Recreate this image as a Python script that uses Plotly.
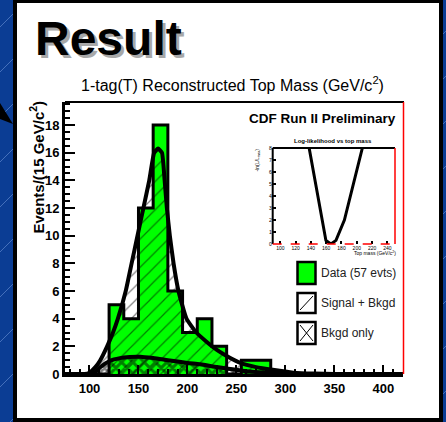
import plotly.graph_objects as go

W, H = 446, 422

# 15 GeV bins, lower edges 75..405, upper edge 420
bin_lo = [75, 90, 105, 120, 135, 150, 165, 180, 195, 210, 225, 240,
          255, 270, 285, 300, 315, 330, 345, 360, 375, 390, 405]
bin_hi_edge = 420
data_counts = [0, 0, 0, 5, 4, 12, 18, 6, 3, 4, 2, 0,
               1, 1, 0, 0, 0, 0, 0, 0, 0, 0, 0]

# signal + background template
sb_mass = [75, 95, 100, 106, 111, 118, 124, 129, 137, 143, 149, 155, 161, 166,
           170, 174, 176.7, 179, 182, 185.8, 190.8, 199, 209, 220, 230, 240,
           254, 270, 287, 308, 330, 350, 420]
sb_val = [0, 0, 0.1, 0.5, 1.0, 2.0, 3.0, 4.0, 6.0, 8.0, 10.0, 12.0, 14.0, 16.0,
          16.3, 16.0, 14.0, 12.0, 10.0, 8.0, 6.0, 4.0, 3.0, 2.3, 1.74, 1.3,
          0.8, 0.5, 0.3, 0.1, 0.03, 0, 0]

# background only template
bg_mass = [75, 100, 105, 111, 121, 131, 141, 152, 165, 180, 200, 213, 230,
           240, 260, 280, 300, 320, 420]
bg_val = [0, 0, 0.1, 0.5, 0.96, 1.15, 1.23, 1.25, 1.15, 1.0, 0.8, 0.7, 0.5,
          0.4, 0.2, 0.1, 0.05, 0, 0]

# inset: -ln(L/Lmax) vs top mass
ll_mass = [132, 137.5, 143, 148.6, 154.3, 159.6, 166.2, 172.8, 183.8, 191.8,
           199.3, 207.3, 212]
ll_val = [10, 8, 6, 4, 2, 0.3, 0, 0.3, 2, 4, 6, 8, 9.5]

FONT = "Liberation Sans, Arial, sans-serif"
BLUE = "#0b3d94"


def px(x):
    return x / W


def py(y):
    return 1 - y / H


def note(text, x, y, size, xanchor="center", yanchor="middle",
         color="black", angle=0, shadow="none"):
    return dict(text=text, x=px(x), y=py(y), xref="paper", yref="paper",
                xanchor=xanchor, yanchor=yanchor, textangle=angle,
                showarrow=False,
                font=dict(family=FONT, size=size, color=color, shadow=shadow))


def pline(x0, y0, x1, y1, color="black", width=2, dash="solid", layer="above"):
    return dict(type="line", xref="paper", yref="paper",
                x0=px(x0), y0=py(y0), x1=px(x1), y1=py(y1),
                line=dict(color=color, width=width, dash=dash), layer=layer)


def prect(x0, y0, x1, y1, fill, width=2.5, layer="above"):
    return dict(type="rect", xref="paper", yref="paper",
                x0=px(x0), y0=py(y0), x1=px(x1), y1=py(y1),
                fillcolor=fill, line=dict(color="black", width=width), layer=layer)


step_x = bin_lo + [bin_hi_edge]
step_y = data_counts + [data_counts[-1]]

fig = go.Figure()

fig.add_trace(go.Scatter(
    x=step_x, y=step_y, mode="lines",
    line=dict(shape="hv", color="black", width=3),
    fill="tozeroy", fillcolor="#00ff00", hoverinfo="skip"))

fig.add_trace(go.Scatter(
    x=sb_mass, y=sb_val, mode="lines",
    line=dict(color="black", width=4, shape="spline", smoothing=0.4),
    fill="tozeroy", fillcolor="rgba(0,0,0,0)",
    fillpattern=dict(shape="/", fgcolor="black", bgcolor="rgba(0,0,0,0)",
                     size=10, solidity=0.12),
    hoverinfo="skip"))

fig.add_trace(go.Scatter(
    x=bg_mass, y=bg_val, mode="lines",
    line=dict(color="black", width=4, shape="spline", smoothing=0.6),
    fill="tozeroy", fillcolor="rgba(0,0,0,0)",
    fillpattern=dict(shape="x", fgcolor="black", bgcolor="rgba(0,0,0,0)",
                     size=8, solidity=0.6),
    hoverinfo="skip"))

fig.add_trace(go.Scatter(
    x=ll_mass, y=ll_val, mode="lines", xaxis="x2", yaxis="y2",
    line=dict(color="black", width=3), hoverinfo="skip"))

shapes = []
# background stripes
for x0 in range(-440, 460, 45):
    shapes.append(pline(x0, H, x0 + H, 0, color="rgba(140,175,235,0.45)",
                        width=1, layer="below"))
# white panel
shapes.append(prect(15, 420, 441, 1, "white", width=4, layer="below"))
# arrow tip at left edge
shapes.append(dict(type="path", xref="paper", yref="paper",
                   path=f"M {px(0)},{py(103)} L {px(13)},{py(124)} L {px(0)},{py(119)} Z",
                   fillcolor="black", line=dict(width=0)))
# main frame: top black, right red
shapes.append(pline(65, 102, 404, 102, width=2))
shapes.append(pline(403.5, 102, 403.5, 374, color="red", width=1.5))
# inset frame
shapes.append(pline(272.7, 148, 395, 148, width=2))
shapes.append(pline(272.7, 148, 272.7, 244, width=2))
shapes.append(pline(395, 148, 395, 244, color="red", width=1.5))
shapes.append(pline(272.7, 244, 395, 244, color="red", width=1.5, dash="dash"))

# legend boxes
shapes.append(prect(297.5, 284, 315.5, 262, "#00ff00"))
shapes.append(prect(297.5, 313, 315.5, 293, "white"))
shapes.append(pline(300, 310, 313, 296, width=1))
shapes.append(prect(297.5, 344, 315.5, 322, "white"))
shapes.append(pline(300, 341, 313, 325, width=1))
shapes.append(pline(300, 325, 313, 341, width=1))

annotations = [
    note("<b>Result</b>", 33, 38, 48, xanchor="left", shadow="3px 3px 0px #a8a8a8"),
    note("1-tag(T) Reconstructed Top Mass (GeV/c<sup>2</sup>)", 233, 84, 16),
    note("<b>Events/(15 GeV/c<sup>2</sup>)</b>", 37, 99, 15, yanchor="top", angle=-90),
    note("<b>CDF Run II Preliminary</b>", 398, 118, 13.5, xanchor="right"),
    note("<b>Log-likelihood vs top mass</b>", 333, 141, 6),
    note("-ln(L/L<sub>max</sub>)", 257, 147, 5, yanchor="top", angle=-90),
    note("Top mass (GeV/c<sup>2</sup>)", 398, 253, 5, xanchor="right"),
    note("Data (57 evts)", 319, 273, 12, xanchor="left", color="#222222"),
    note("Signal + Bkgd", 319, 303, 12, xanchor="left", color="#222222"),
    note("Bkgd only", 319, 333, 12, xanchor="left", color="#222222"),
]

tick_font = dict(family=FONT, size=13, color="black", weight="bold")
small_font = dict(family=FONT, size=5, color="black")

fig.update_layout(
    width=W, height=H,
    margin=dict(l=0, r=0, t=0, b=0),
    paper_bgcolor=BLUE, plot_bgcolor="white",
    showlegend=False,
    shapes=shapes, annotations=annotations,
    xaxis=dict(domain=[px(65), px(403)], range=[75, 420], anchor="y",
               automargin=False,
               showline=True, linewidth=3, linecolor="black",
               ticks="inside", ticklen=9, tickwidth=2, tickcolor="black",
               tick0=0, dtick=50, tickfont=tick_font,
               minor=dict(ticks="inside", ticklen=5, tickwidth=1.5,
                          tickcolor="black", dtick=10, tick0=0),
               showgrid=False, zeroline=False),
    yaxis=dict(domain=[py(374), py(102)], range=[0, 19.67], anchor="x",
               automargin=False,
               showline=True, linewidth=3, linecolor="black",
               ticks="inside", ticklen=10, tickwidth=2, tickcolor="black",
               tick0=0, dtick=2, tickfont=tick_font,
               minor=dict(ticks="inside", ticklen=5, tickwidth=1.5,
                          tickcolor="black", dtick=0.5, tick0=0),
               showgrid=False, zeroline=False),
    xaxis2=dict(domain=[px(272.7), px(395)], range=[90, 250], anchor="y2",
                automargin=False,
                showline=False, ticks="inside", ticklen=3, tickwidth=1.5,
                tickcolor="black", tick0=0, dtick=20, tickfont=small_font,
                showgrid=False, zeroline=False),
    yaxis2=dict(domain=[py(244), py(148)], range=[0, 8], anchor="x2",
                automargin=False,
                showline=False, ticks="inside", ticklen=3, tickwidth=1.5,
                tickcolor="black", tick0=0, dtick=1, tickfont=small_font,
                showgrid=False, zeroline=False),
)

# page body has an 8px default margin; drop it so the figure fills the window
fig.write_html("out.html", config={"displayModeBar": False},
               post_script="document.body.style.margin='0';")
